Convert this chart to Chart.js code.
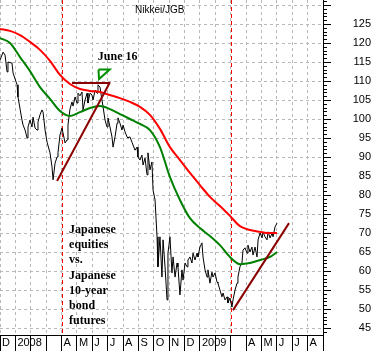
<!DOCTYPE html>
<html>
<head>
<meta charset="utf-8">
<script src="https://cdn.jsdelivr.net/npm/chart.js@4.4.1/dist/chart.umd.min.js"></script>
<style>
  html, body { margin: 0; padding: 0; background: #fff; }
  #wrap { width: 371px; height: 351px; }
</style>
</head>
<body>
<div id="wrap"><canvas id="myChart" width="371" height="351"></canvas></div>
<script>
// x is in months: 0 = start of Dec 2007, 13 = start of Jan 2009
const monthLabels = ['D', '2008', '', '', 'A', 'M', 'J', 'J', 'A', 'S', 'O', 'N',
                     'D', '2009', '', '', 'A', 'M', 'J', 'J', 'A'];

// Nikkei / JGB futures ratio
const priceMonths = [0.00, 0.20, 0.33, 0.46, 0.52, 0.78, 0.85, 1.11, 1.17, 1.43, 1.50, 1.63, 1.76, 1.82, 1.95,
  2.08, 2.15, 2.28, 2.41, 2.47, 2.60, 2.73, 2.80, 2.93, 3.06, 3.25, 3.38, 3.45, 3.58, 3.71, 3.77, 3.90,
  4.03, 4.10, 4.23, 4.36, 4.42, 4.55, 4.68, 4.75, 4.88, 5.01, 5.07, 5.20, 5.33, 5.40, 5.53, 5.66, 5.72, 5.85, 5.98,
  6.05, 6.18, 6.31, 6.37, 6.50, 6.63, 6.70, 6.83, 6.96, 7.02, 7.15, 7.28, 7.35, 7.48, 7.61, 7.67, 7.80, 7.93,
  8.00, 8.13, 8.26, 8.32, 8.45, 8.58, 8.78, 8.91, 8.97, 9.10, 9.23, 9.30, 9.43, 9.56, 9.62, 9.75, 9.88, 9.95,
  10.08, 10.21, 10.27, 10.40, 10.53, 10.60, 10.73, 10.86, 10.92, 11.05, 11.18, 11.25, 11.38, 11.51, 11.57, 11.70, 11.83, 11.90,
  12.03, 12.16, 12.22, 12.35, 12.48, 12.55, 12.68, 12.81, 12.87, 13.00, 13.13, 13.20, 13.33, 13.46, 13.52, 13.65, 13.78, 13.85, 13.98,
  14.11, 14.17, 14.30, 14.43, 14.50, 14.63, 14.76, 14.82, 14.95, 15.08, 15.15, 15.28, 15.41, 15.47, 15.60, 15.73, 15.80, 15.93,
  16.06, 16.12, 16.25, 16.38, 16.45, 16.58, 16.71, 16.78, 16.91, 17.04, 17.10, 17.23, 17.36, 17.43, 17.56, 17.69, 17.75, 17.88, 18.01];
const priceValues = [115.5, 117.6, 116.8, 112.4, 115.0, 114.7, 112.1, 109.0, 105.8, 99.7, 98.4, 97.1, 95.0, 97.9, 99.7,
  97.9, 100.5, 97.6, 97.1, 99.2, 101.1, 102.4, 101.8, 97.1, 93.9, 91.1, 87.4, 84.0, 88.4, 90.0, 91.1, 95.8,
  97.6, 96.3, 93.7, 94.5, 98.4, 102.6, 104.5, 103.4, 105.8, 104.2, 106.8, 106.1, 107.1, 102.4, 105.0, 106.8, 104.2, 106.8, 106.3,
  105.0, 107.6, 106.8, 109.0, 108.4, 105.0, 103.2, 99.7, 97.9, 100.3, 97.9, 95.3, 92.6, 95.3, 98.9, 100.3, 98.9, 97.1,
  98.4, 96.6, 95.3, 95.0, 95.3, 93.9, 91.8, 92.6, 90.0, 89.2, 90.5, 87.9, 89.7, 85.3, 91.1, 86.6, 88.7, 81.3,
  78.7, 69.0, 61.1, 69.0, 58.4, 68.2, 61.1, 52.4, 64.7, 69.0, 59.5, 63.7, 58.4, 62.1, 61.1, 53.7, 60.3, 57.6,
  62.1, 61.1, 62.9, 63.7, 62.1, 64.7, 62.9, 64.7, 63.7, 66.3, 67.4, 63.7, 60.3, 58.4, 60.3, 56.8, 59.7, 58.4, 59.5,
  57.1, 56.8, 55.0, 53.2, 54.2, 52.4, 53.2, 51.6, 52.9, 50.5, 52.4, 55.0, 56.8, 58.4, 61.1, 62.1, 65.5, 66.1,
  64.7, 66.8, 65.0, 66.3, 64.2, 66.3, 63.7, 68.2, 70.0, 68.7, 70.3, 69.0, 68.2, 70.3, 68.7, 70.0, 69.0, 71.6, 72.6];

// moving averages
const maMonths = [0.00, 0.65, 1.30, 1.95, 2.60, 3.25, 3.90, 4.55, 5.20, 5.85, 6.50, 7.15, 7.80, 8.45, 9.10,
  9.75, 10.40, 11.05, 11.70, 12.35, 13.00, 13.65, 14.30, 14.95, 15.60, 16.25, 16.91, 17.56, 18.01];
const slowMA = [123.7, 123.2, 122.1, 120.3, 118.2, 115.3, 111.6, 109.2, 107.9, 107.4, 107.1, 106.3, 105.5, 104.5, 103.2,
  101.1, 97.4, 92.6, 89.2, 85.8, 82.6, 79.5, 77.1, 74.5, 71.8, 70.8, 70.3, 70.0, 70.0];
const fastMA = [121.3, 120.0, 116.3, 112.6, 108.4, 105.3, 102.1, 100.8, 101.8, 102.9, 103.4, 102.6, 101.3, 100.0, 98.7,
  97.1, 92.6, 84.7, 78.7, 73.9, 71.3, 69.2, 66.8, 63.7, 61.8, 62.1, 62.9, 63.7, 65.0];

// hand drawn marks
const trendUp2008 = [[3.71, 83.7], [7.15, 109.7]];
const topLine2008 = [[4.68, 109.5], [7.15, 109.5]];
const trendUp2009 = [[15.15, 49.7], [18.79, 72.6]];
const juneMarker = [[6.40, 113.0], [7.13, 113.0], [6.44, 110.5], [6.40, 113.0]];
const lowMarks = [4, 15];
const noteLines = ['Japanese', 'equities', 'vs.', 'Japanese', '10-year', 'bond', 'futures'];

function toPoints(xs, ys) {
  return xs.map((m, i) => ({ x: m, y: ys[i] }));
}
function pairs(arr) {
  return arr.map(p => ({ x: p[0], y: p[1] }));
}
function noPadding(s) {
  s.paddingTop = 0; s.paddingBottom = 0; s.paddingLeft = 0; s.paddingRight = 0;
}

const extras = {
  id: 'extras',
  beforeDatasetsDraw(chart) {
    const { ctx, chartArea, scales: { x } } = chart;
    ctx.save();
    // red dashed lines at the two lows, on top of the month grid lines
    ctx.strokeStyle = '#ff0000';
    ctx.lineWidth = 1;
    ctx.setLineDash([4, 3]);
    lowMarks.forEach(m => {
      const px = Math.round(x.getPixelForValue(m)) + 0.5;
      ctx.beginPath();
      ctx.moveTo(px, chartArea.top);
      ctx.lineTo(px, chartArea.bottom);
      ctx.stroke();
    });
    ctx.restore();
  },
  afterDraw(chart) {
    const { ctx, chartArea, scales: { x, y } } = chart;
    ctx.save();
    // minor ticks on the price axis
    ctx.strokeStyle = '#000';
    ctx.lineWidth = 1;
    for (let v = Math.ceil(y.min); v <= y.max; v++) {
      if (v % 5 === 0) continue;
      const py = Math.round(y.getPixelForValue(v)) + 0.5;
      ctx.beginPath();
      ctx.moveTo(chartArea.right, py);
      ctx.lineTo(chartArea.right + 4, py);
      ctx.stroke();
    }
    ctx.fillStyle = '#000';
    ctx.textBaseline = 'alphabetic';
    ctx.font = '10px "Liberation Sans", Arial, sans-serif';
    ctx.textAlign = 'left';
    ctx.fillText('Nikkei/JGB', 135, 13);

    ctx.font = 'bold 12px "Liberation Serif", "Times New Roman", serif';
    ctx.textAlign = 'center';
    ctx.fillText('June 16', x.getPixelForValue(7.65), y.getPixelForValue(115.5));

    ctx.textAlign = 'left';
    const left = x.getPixelForValue(4.49);
    const top = y.getPixelForValue(70.0);
    noteLines.forEach((t, i) => ctx.fillText(t, left, top + i * 15.2));
    ctx.restore();
  }
};

const config = {
  type: 'line',
  data: {
    datasets: [
      { data: pairs(trendUp2008), borderColor: '#8b0000', borderWidth: 2, pointRadius: 0 },
      { data: pairs(topLine2008), borderColor: '#8b0000', borderWidth: 2, pointRadius: 0 },
      { data: pairs(trendUp2009), borderColor: '#8b0000', borderWidth: 2, pointRadius: 0 },
      { data: pairs(juneMarker), borderColor: '#009000', borderWidth: 2, pointRadius: 0 },
      { data: toPoints(maMonths, slowMA), borderColor: '#ff0000', borderWidth: 2, pointRadius: 0, cubicInterpolationMode: 'monotone' },
      { data: toPoints(maMonths, fastMA), borderColor: '#008000', borderWidth: 2, pointRadius: 0, cubicInterpolationMode: 'monotone' },
      { data: toPoints(priceMonths, priceValues), borderColor: '#000000', borderWidth: 1, pointRadius: 0 }
    ]
  },
  options: {
    responsive: false,
    animation: false,
    devicePixelRatio: 1,
    layout: { padding: 0, autoPadding: false },
    plugins: { legend: { display: false }, tooltip: { enabled: false } },
    scales: {
      x: {
        type: 'linear',
        min: 0,
        max: 21,
        afterFit: s => { s.height = 16; noPadding(s); },
        grid: { color: '#b8b8b8', tickLength: 16, tickColor: '#000' },
        border: { color: '#000', dash: [3, 3] },
        ticks: {
          stepSize: 1,
          autoSkip: false,
          maxRotation: 0,
          align: 'start',
          labelOffset: 2,
          padding: -15,
          color: '#000',
          font: { family: '"Liberation Sans", Arial, sans-serif', size: 11 },
          callback: v => monthLabels[v] || ''
        }
      },
      y: {
        position: 'right',
        min: 43.16,
        max: 131.32,
        afterFit: s => { s.width = 48; noPadding(s); },
        grid: { color: '#b8b8b8', tickLength: 8, tickColor: '#000' },
        border: { color: '#000', dash: [3, 3] },
        ticks: {
          stepSize: 5,
          includeBounds: false,
          crossAlign: 'far',
          padding: 16,
          color: '#000',
          font: { family: '"Liberation Sans", Arial, sans-serif', size: 11 },
          callback: v => (v <= 125 ? v : '')
        }
      }
    }
  },
  plugins: [extras]
};

const myChart = new Chart(document.getElementById('myChart'), config);
</script>
</body>
</html>
